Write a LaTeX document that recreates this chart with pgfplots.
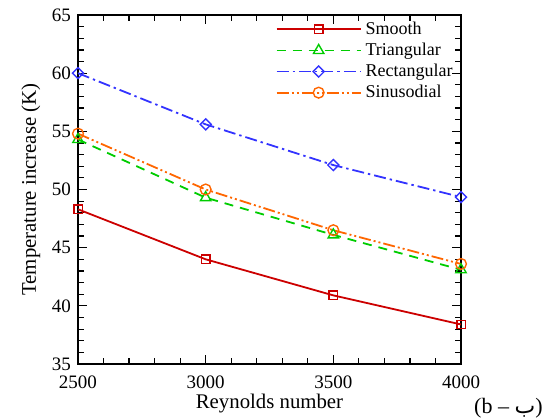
\documentclass[border=0pt]{standalone}
\usepackage{fontspec}
\setmainfont{Liberation Serif}
\newfontfamily\arabicfont[Script=Arabic]{DejaVu Sans}
\TeXXeTstate=1
\usepackage{pgfplots}
\pgfplotsset{compat=1.18}
\definecolor{cSmooth}{RGB}{204,0,0}
\definecolor{cTri}{RGB}{0,204,0}
\definecolor{cRect}{RGB}{51,51,255}
\definecolor{cSin}{RGB}{255,102,0}
\begin{document}
\begin{tikzpicture}
\path[use as bounding box] (-39pt,-27pt) rectangle (235.5pt,182pt);
\begin{axis}[
  at={(0,0)}, anchor=south west,
  scale only axis,
  width=191.5pt, height=174.5pt,
  xmin=2500, xmax=4000, ymin=35, ymax=65,
  clip=false,
  xtick={2500,3000,3500,4000},
  ytick={35,40,45,50,55,60,65},
  minor x tick num=4, minor y tick num=4,
  tick align=inside,
  major tick length=4.5pt, minor tick length=2.8pt,
  axis line style={line width=1pt},
  every tick/.style={black, line width=0.6pt},
  /pgf/number format/assume math mode=true,
  /pgf/number format/1000 sep={},
  tick label style={font=\fontsize{9.5}{11}\selectfont},
  xticklabel style={yshift=-2.5pt},
  xlabel={Reynolds number},
  ylabel={Temperature increase (K)},
  label style={font=\fontsize{10.4}{12}\selectfont},
  xlabel style={yshift=4.3pt},
  ylabel style={yshift=-1pt},
  legend style={at={(1.005,1.005)}, anchor=north east, draw=none, fill=none,
    font=\fontsize{9}{10}\selectfont, row sep=-1.2pt},
  legend cell align=left,
  legend image code/.code={\draw[mark repeat=2,mark phase=2,#1] plot coordinates {(0pt,0pt) (21pt,0pt) (42pt,0pt)};},
]
\addplot[cSmooth, line width=0.9pt, mark=square, mark size=2.1pt, mark options={solid, line width=0.7pt}]
  coordinates {(2500,48.3) (3000,44.0) (3500,40.9) (4000,38.4)};
\addlegendentry{Smooth}
\addplot[cTri, line width=0.9pt, dash pattern=on 4.5pt off 3.5pt, mark=triangle, mark size=3pt, mark options={solid, line width=0.7pt}]
  coordinates {(2500,54.3) (3000,49.3) (3500,46.1) (4000,43.1)};
\addlegendentry{Triangular}
\addplot[cRect, line width=0.9pt, dash pattern=on 6pt off 2pt on 1.2pt off 2pt, mark=square, mark size=1.95pt, mark options={solid, rotate=45, line width=0.7pt}]
  coordinates {(2500,60.0) (3000,55.6) (3500,52.1) (4000,49.35)};
\addlegendentry{Rectangular}
\addplot[cSin, line width=0.9pt, dash pattern=on 6pt off 1.5pt on 1pt off 1.5pt on 1pt off 1.5pt, mark=o, mark size=2.7pt, mark options={solid, line width=0.7pt}]
  coordinates {(2500,54.8) (3000,50.0) (3500,46.5) (4000,43.6)};
\addlegendentry{Sinusodial}
\end{axis}
\node[font=\fontsize{11}{13}\selectfont, anchor=east, inner sep=0pt] at (232.5pt,-22pt) {(b -- {\arabicfont\beginR ب\endR})};
\end{tikzpicture}
\end{document}
